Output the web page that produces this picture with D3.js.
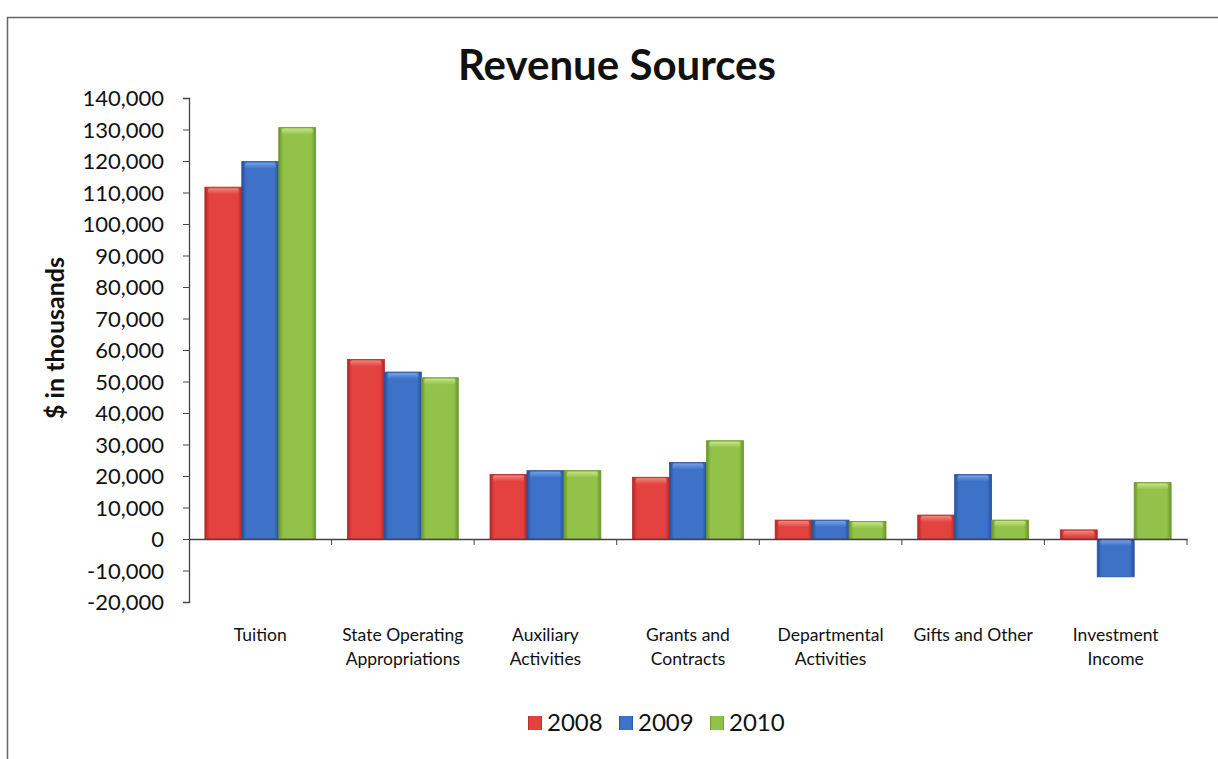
<!DOCTYPE html>
<html>
<head>
<meta charset="utf-8">
<script src="https://cdn.jsdelivr.net/npm/d3@7"></script>
<style>
  body { margin: 0; background: #fff; }
  svg text { font-family: Lato, "Noto Sans", sans-serif; fill: #111; }
</style>
</head>
<body>
<script>
// data

const categories = [
  ["Tuition"],
  ["State Operating", "Appropriations"],
  ["Auxiliary", "Activities"],
  ["Grants and", "Contracts"],
  ["Departmental", "Activities"],
  ["Gifts and Other"],
  ["Investment", "Income"]
]
const years = ["2008", "2009", "2010"]
const v2008 = [111700, 57000, 20500, 19600, 6000, 7600, 2900]
const v2009 = [119800, 53000, 21700, 24300, 6000, 20500, -12000]
const v2010 = [130600, 51200, 21700, 31200, 5600, 6000, 17900]
const yTicks = [-20000, -10000, 0, 10000, 20000, 30000, 40000, 50000, 60000, 70000,
  80000, 90000, 100000, 110000, 120000, 130000, 140000]

const series = [v2008, v2009, v2010]
const colors = {
  2008: ["#b42626", "#e4423f", "#f29286"],
  2009: ["#26509e", "#3d72c8", "#80aae8"],
  2010: ["#6a962a", "#93c24a", "#cdea8e"]
}

const W = 1218, H = 759
const plot = { left: 189, right: 1187, top: 98, bottom: 602 }

const svg = d3.select("body").append("svg")
  .attr("width", W)
  .attr("height", H)

// outer frame
svg.append("path")
  .attr("d", `M7.5,${H} V17.5 H${W}`)
  .attr("fill", "none")
  .attr("stroke", "#666")
  .attr("stroke-width", 1.5)

const defs = svg.append("defs")
years.forEach(yr => {
  const [dark, mid, light] = colors[yr]
  const g = defs.append("linearGradient").attr("id", "g" + yr)
  g.append("stop").attr("offset", "0%").attr("stop-color", dark)
  g.append("stop").attr("offset", "12%").attr("stop-color", mid)
  g.append("stop").attr("offset", "88%").attr("stop-color", mid)
  g.append("stop").attr("offset", "100%").attr("stop-color", dark)
  const c = defs.append("linearGradient").attr("id", "c" + yr)
    .attr("x1", 0).attr("x2", 0).attr("y1", 0).attr("y2", 1)
  c.append("stop").attr("offset", "0%").attr("stop-color", light)
  c.append("stop").attr("offset", "100%").attr("stop-color", mid)
})

const x = d3.scaleBand()
  .domain(d3.range(categories.length))
  .range([plot.left, plot.right])
  .paddingInner(0)
  .paddingOuter(0)

const inner = d3.scaleBand()
  .domain(years)
  .range([0, x.bandwidth()])
  .paddingOuter(0.43)
  .paddingInner(0)

const y = d3.scaleLinear()
  .domain([-20000, 140000])
  .range([plot.bottom, plot.top])

// bars
years.forEach((yr, si) => {
  const g = svg.append("g")
  const bars = g.selectAll("g.bar")
    .data(series[si])
    .enter().append("g")
      .attr("class", "bar")
  bars.append("rect")
    .attr("x", (d, i) => x(i) + inner(yr))
    .attr("width", inner.bandwidth())
    .attr("y", d => y(Math.max(0, d)))
    .attr("height", d => Math.abs(y(d) - y(0)))
    .attr("fill", `url(#g${yr})`)
    .attr("stroke", colors[yr][0])
    .attr("stroke-width", 0.8)
  // bevel cap
  bars.append("rect")
    .attr("x", (d, i) => x(i) + inner(yr) + 3)
    .attr("width", inner.bandwidth() - 6)
    .attr("y", d => d >= 0 ? y(d) + 1 : y(0) + 1)
    .attr("height", 6)
    .attr("rx", 2)
    .attr("fill", `url(#c${yr})`)
    .attr("opacity", 0.85)
})

// y axis
const fmt = d => d3.format(",")(d).replace("−", "-")
const yAxis = svg.append("g")
  .attr("transform", `translate(${plot.left},0)`)
  .call(d3.axisLeft(y).tickValues(yTicks).tickSize(6).tickFormat(fmt))
yAxis.select(".domain").attr("stroke", "#444").attr("stroke-width", 1.3)
yAxis.selectAll(".tick line").attr("stroke", "#444")
yAxis.selectAll("text")
  .attr("font-size", 22)
  .attr("x", -25)
  .attr("dy", "0.35em")

// x axis at zero
const xAxis = svg.append("g")
  .attr("transform", `translate(0,${y(0)})`)
  .call(d3.axisBottom(x).tickValues([]).tickSizeOuter(0))
xAxis.select(".domain").attr("stroke", "#444").attr("stroke-width", 1.3)
xAxis.selectAll(".sep")
  .data(d3.range(1, categories.length + 1))
  .enter().append("line")
    .attr("x1", i => i < categories.length ? x(i) : plot.right)
    .attr("x2", i => i < categories.length ? x(i) : plot.right)
    .attr("y1", 0)
    .attr("y2", 6)
    .attr("stroke", "#444")

// category labels
const labels = svg.append("g")
  .selectAll("text")
  .data(categories)
  .enter().append("text")
    .attr("text-anchor", "middle")
    .attr("font-size", 17.5)
    .attr("x", (d, i) => x(i) + x.bandwidth() / 2)
    .attr("y", 641)
labels.selectAll("tspan")
  .data(d => d)
  .enter().append("tspan")
    .attr("x", function () { return d3.select(this.parentNode).attr("x") })
    .attr("dy", (d, i) => i === 0 ? 0 : 24)
    .text(d => d)

// title
svg.append("text")
  .attr("x", 617)
  .attr("y", 80)
  .attr("text-anchor", "middle")
  .attr("font-size", 42)
  .attr("font-weight", "bold")
  .text("Revenue Sources")

// y label
svg.append("text")
  .attr("transform", "translate(64,338) rotate(-90)")
  .attr("text-anchor", "middle")
  .attr("font-size", 25)
  .attr("font-weight", "bold")
  .text("$ in thousands")

// legend
const legend = svg.append("g")
  .selectAll("g")
  .data(years)
  .enter().append("g")
    .attr("transform", (d, i) => `translate(${528 + i * 91},723)`)
legend.append("rect")
  .attr("x", 0)
  .attr("y", -7)
  .attr("width", 14)
  .attr("height", 14)
  .attr("fill", d => `url(#g${d})`)
legend.append("text")
  .attr("x", 19)
  .attr("y", 0)
  .attr("dy", "0.35em")
  .attr("font-size", 24)
  .text(d => d)
</script>
</body>
</html>
